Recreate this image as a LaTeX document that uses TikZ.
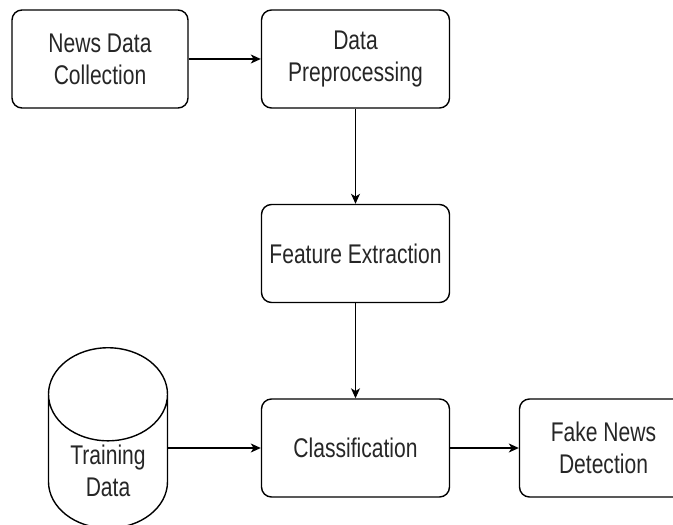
\documentclass[tikz,border=0pt]{standalone}
\usepackage{fontspec}
\setmainfont{Liberation Sans}[FakeStretch=0.78]
\usepackage{tikz}
\usetikzlibrary{matrix,shapes.geometric,arrows.meta}

\tikzset{
  stage/.style={draw, rounded corners=5pt, line width=0.7pt, minimum width=94pt,
    minimum height=49pt, align=center, text=black!85},
  store/.style={draw, cylinder, shape border rotate=90, aspect=1.05, fill=white,
    minimum width=59.5pt, minimum height=87.5pt, line width=0.7pt, align=center,
    anchor=shape center, text height=24pt, text=black!85}
}

\begin{document}
\begin{tikzpicture}[font=\fontsize{13.5}{16}\selectfont]
  \matrix (m) [row sep={97.25pt,between origins},column sep={127.75pt,between origins}]
  {
    \node (collect) [stage,minimum width=88pt] {News Data\\Collection}; &
    \node (prep) [stage] {Data\\Preprocessing}; & \\
    & \node (feat) [stage] {Feature Extraction}; & \\
    \node (train) [store,xshift=4pt,yshift=5pt] {Training\\Data}; &
    \node (classify) [stage] {Classification}; &
    \node (detect) [stage,minimum width=84pt,xshift=-3.75pt] {Fake News\\Detection}; \\
  };
  \pgfresetboundingbox
  \useasboundingbox ([xshift=-50pt,yshift=29.5pt]collect.center) rectangle ++(336.5pt,-262pt);
  \path[-{Stealth[length=5pt,width=4.5pt,inset=1.4pt]},line width=0.6pt]
    (collect) edge (prep)
    (prep) edge (feat)
    (feat) edge (classify)
    (train.east |- classify) edge (classify)
    (classify) edge (detect);
\end{tikzpicture}
\end{document}
